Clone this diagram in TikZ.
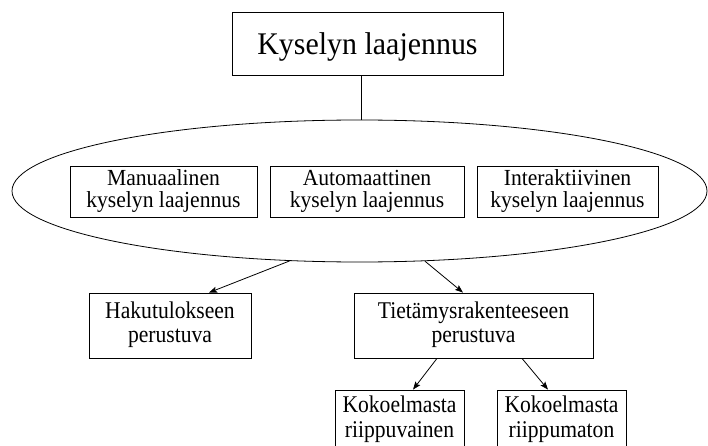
\documentclass[tikz,border=0pt]{standalone}
\usepackage{fontspec}
\setmainfont{Liberation Serif}
\newfontfamily\boxfont[FakeStretch=0.9]{Liberation Serif}
\newfontfamily\innerfont[FakeStretch=0.94]{Liberation Serif}
\newfontfamily\titlefont[FakeStretch=0.95]{Liberation Serif}
\usetikzlibrary{shapes.geometric,arrows.meta}
\tikzset{
  box/.style n args={3}{draw, line width=0.8pt, inner sep=0pt, align=center,
    font=\boxfont\fontsize{24}{#3}\selectfont,
    execute at begin node={\rule{0pt}{#1}},
    execute at end node={\rule[-#2]{0pt}{#2}}},
  innerbox/.style={draw, line width=0.8pt, inner sep=0pt, align=center,
    font=\innerfont\fontsize{23}{22}\selectfont,
    execute at begin node={\rule{0pt}{23pt}},
    execute at end node={\rule[-6pt]{0pt}{6pt}},
    minimum height=51pt},
  titlebox/.style={draw, line width=0.8pt, inner sep=0pt, align=center,
    font=\titlefont\fontsize{31.5}{34}\selectfont, text depth=0pt},
  conn/.style={line width=0.8pt},
  arr/.style={line width=0.8pt, -{Stealth[length=8pt,width=6pt,inset=1.5pt]}}
}
\begin{document}
\begin{tikzpicture}[x=1pt,y=-1pt]
\useasboundingbox (0,0) rectangle (708,446);
\clip (0,0) rectangle (708,446);
\node[titlebox, minimum width=271pt, minimum height=63pt] (top) at (367.5,43.5) {Kyselyn laajennus};
\node[draw, ellipse, line width=0.8pt, inner sep=0pt, minimum width=695pt, minimum height=142pt] (ell) at (359.5,191) {};
\node[innerbox, minimum width=187pt] (man) at (163.5,191.5) {Manuaalinen\\kyselyn laajennus};
\node[innerbox, minimum width=194pt] (aut) at (367,191.5) {Automaattinen\\kyselyn laajennus};
\node[innerbox, minimum width=181pt] (int) at (567.5,191.5) {Interaktiivinen\\kyselyn laajennus};
\node[box={24.4pt}{6pt}{24pt}, minimum width=162pt, minimum height=65pt] (hak) at (170,325.5) {Hakutulokseen\\perustuva};
\node[box={24.4pt}{6pt}{24pt}, minimum width=239pt, minimum height=65pt] (tie) at (473.5,325.5) {Tietämysrakenteeseen\\perustuva};
\node[box={20pt}{6pt}{25pt}, minimum width=129pt, minimum height=59pt] (kr1) at (399.5,419.5) {Kokoelmasta\\riippuvainen};
\node[box={20pt}{6pt}{25pt}, minimum width=129pt, minimum height=59pt] (kr2) at (561.5,419.5) {Kokoelmasta\\riippumaton};
\draw[conn] ([xshift=-6.5pt]top.south) -- ([xshift=1.5pt]ell.north);
\draw[arr] (ell.225) -- ([xshift=39pt]hak.north);
\draw[arr] (ell.313) -- ([xshift=-10.5pt]tie.north);
\draw[arr] ([xshift=-36.5pt]tie.south) -- ([xshift=13.5pt]kr1.north);
\draw[arr] ([xshift=48.5pt]tie.south) -- ([xshift=-13.5pt]kr2.north);
\end{tikzpicture}
\end{document}
